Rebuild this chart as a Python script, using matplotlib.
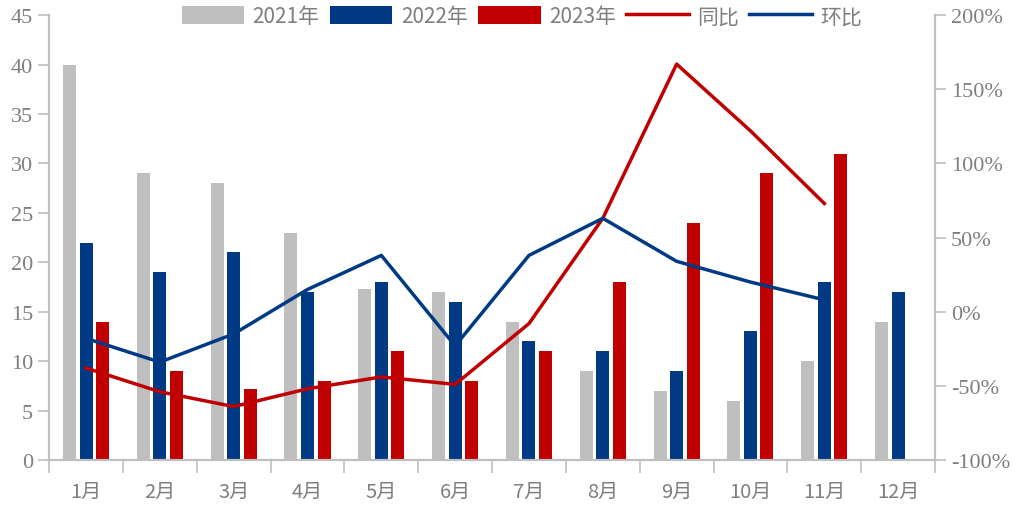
import numpy as np
import matplotlib
matplotlib.use('Agg')
import matplotlib.pyplot as plt
from matplotlib.ticker import FuncFormatter

plt.rcParams['font.family'] = ['Noto Sans CJK SC', 'DejaVu Sans']

months = ['1月', '2月', '3月', '4月', '5月', '6月', '7月', '8月', '9月', '10月', '11月', '12月']
y2021 = [40, 29, 28, 23, 17.3, 17, 14, 9, 7, 6, 10, 14]
y2022 = [22, 19, 21, 17, 18, 16, 12, 11, 9, 13, 18, 17]
y2023 = [14, 9, 7.2, 8, 11, 8, 11, 18, 24, 29, 31]
yoy = [-38, -54, -64, -52, -44, -49, -8, 63, 167, 122, 73]   # 同比 %
mom = [-18, -34, -15, 15, 38, -23, 38, 63, 34, 20, 8]         # 环比 %

GRAY = '#BFBFBF'
BLUE = '#003A84'
RED = '#C00000'
TXT = '#7F7F7F'
AX = '#BFBFBF'

fig = plt.figure(figsize=(10.23, 5.06), dpi=100)
ax = fig.add_axes([0.048, 0.089, 0.866, 0.879])
ax2 = ax.twinx()

x = np.arange(len(months))
w = 0.176
step = 0.224
b1 = ax.bar(x - step, y2021, w, color=GRAY, label='2021年')
b2 = ax.bar(x, y2022, w, color=BLUE, label='2022年')
b3 = ax.bar(np.arange(len(y2023)) + step, y2023, w, color=RED, label='2023年')

l1, = ax2.plot(np.arange(len(yoy)), yoy, color=RED, lw=2.5, label='同比')
l2, = ax2.plot(np.arange(len(mom)), mom, color=BLUE, lw=2.5, label='环比')

ax.set_xlim(-0.5, 11.5)
ax.set_ylim(0, 45)
ax.set_yticks(range(0, 46, 5))
ax2.set_ylim(-100, 200)
ax2.set_yticks(range(-100, 201, 50))
ax2.yaxis.set_major_formatter(FuncFormatter(lambda v, p: f'{int(v)}%'))

ax.set_xticks(x)
ax.set_xticklabels(months, fontsize=14.5, color=TXT)
ax.set_xticks(np.arange(-0.5, 12, 1), minor=True)
ax.tick_params(axis='x', which='major', length=0, pad=15)
ax.tick_params(axis='x', which='minor', length=9, color=AX, width=1.2, direction='out')

ax.tick_params(axis='y', labelsize=16, labelcolor=TXT, color=AX, length=8, width=1.2)
ax2.tick_params(axis='y', labelsize=16, labelcolor=TXT, color=AX, length=8, width=1.2)
for lab in ax.get_yticklabels() + ax2.get_yticklabels():
    lab.set_fontfamily('Liberation Serif')

for a in (ax, ax2):
    a.spines['top'].set_visible(False)
    for s in ('left', 'right', 'bottom'):
        a.spines[s].set_color(AX)
        a.spines[s].set_linewidth(1.5)

ax.set_zorder(ax2.get_zorder() - 1)
ax2.patch.set_visible(False)

leg = fig.legend(handles=[b1, b2, b3, l1, l2], loc='center', bbox_to_anchor=(0.51, 0.966),
                 ncol=5, frameon=False, fontsize=15, handlelength=3.0, handleheight=0.9,
                 columnspacing=0.5, handletextpad=0.4)
for t in leg.get_texts():
    t.set_color(TXT)

fig.savefig('out.png', dpi=100)
